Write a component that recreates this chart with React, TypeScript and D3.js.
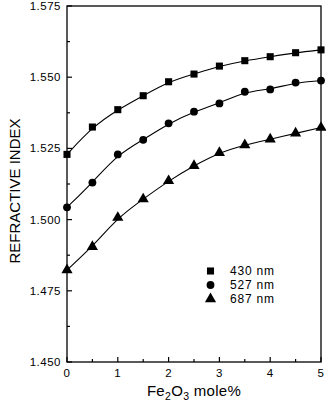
import React from "react";
import * as d3 from "d3";

const xValues = [0, 0.5, 1, 1.5, 2, 2.5, 3, 3.5, 4, 4.5, 5];
const n430 = [1.5229, 1.5325, 1.5386, 1.5435, 1.5484, 1.5511, 1.5539, 1.5558, 1.5572, 1.5586, 1.5596];
const n527 = [1.5043, 1.513, 1.5229, 1.528, 1.5338, 1.5379, 1.5408, 1.5449, 1.5457, 1.5481, 1.5488];
const n687 = [1.4823, 1.4905, 1.5007, 1.5072, 1.5136, 1.5189, 1.5235, 1.5262, 1.5282, 1.5303, 1.5323];
const seriesNames = ["430 nm", "527 nm", "687 nm"];
const yTicks = [1.45, 1.475, 1.5, 1.525, 1.55, 1.575];
const xTicks = [0, 1, 2, 3, 4, 5];

const W = 326;
const H = 401;
const m = { left: 67, right: 321, top: 6, bottom: 362 };
const font = "'Liberation Sans', Arial, sans-serif";

export default function App() {
  const x = d3.scaleLinear().domain([0, 5]).range([m.left, m.right]);
  const y = d3.scaleLinear().domain([1.45, 1.575]).range([m.bottom, m.top]);
  const line = d3
    .line<number>()
    .x((_, i) => x(xValues[i]))
    .y((d) => y(d))
    .curve(d3.curveBasis);

  const series = [n430, n527, n687];
  const sq = d3.symbol().type(d3.symbolSquare).size(50)();
  const ci = d3.symbol().type(d3.symbolCircle).size(48)();
  const tr = d3.symbol().type(d3.symbolTriangle).size(54)();
  const shapes = [sq, ci, tr];

  const yMinor = d3.range(1.4625, 1.575, 0.025);
  const xMinor = d3.range(0.5, 5, 1);

  return (
    <svg width={W} height={H} style={{ position: "absolute", left: 0, top: 0, background: "#fff" }}>
      <rect x={0} y={0} width={W} height={H} fill="#fff" />
      <g stroke="#000" fill="none">
        <rect x={m.left} y={m.top} width={m.right - m.left} height={m.bottom - m.top} strokeWidth={1.3} />
        {yTicks.map((t) => (
          <line key={t} x1={m.left} x2={m.left + 5} y1={y(t)} y2={y(t)} strokeWidth={1.2} />
        ))}
        {yMinor.map((t) => (
          <line key={t} x1={m.left} x2={m.left + 3} y1={y(t)} y2={y(t)} strokeWidth={1.2} />
        ))}
        {xTicks.map((t) => (
          <line key={t} x1={x(t)} x2={x(t)} y1={m.bottom} y2={m.bottom - 5} strokeWidth={1.2} />
        ))}
        {xMinor.map((t) => (
          <line key={t} x1={x(t)} x2={x(t)} y1={m.bottom} y2={m.bottom - 3} strokeWidth={1.2} />
        ))}
      </g>
      <g fontFamily={font} fontSize={11.5} fill="#000" letterSpacing={0.5}>
        {yTicks.map((t) => (
          <text key={t} x={m.left - 6} y={y(t)} dy="0.35em" textAnchor="end">
            {d3.format(".3f")(t)}
          </text>
        ))}
        {xTicks.map((t) => (
          <text key={t} x={x(t)} y={m.bottom + 15} textAnchor="middle">
            {t}
          </text>
        ))}
      </g>
      <text
        transform={`translate(20,191) rotate(-90)`}
        textAnchor="middle"
        fontFamily={font}
        fontSize={15}
      >
        REFRACTIVE INDEX
      </text>
      <text x={194} y={396} textAnchor="middle" fontFamily={font} fontSize={15} letterSpacing={0.3}>
        Fe<tspan fontSize={10.5} dy={4}>2</tspan>
        <tspan dy={-4}>O</tspan>
        <tspan fontSize={10.5} dy={4}>3</tspan>
        <tspan dy={-4}> mole%</tspan>
      </text>
      {series.map((s, k) => (
        <g key={k}>
          <path d={line(s) || ""} fill="none" stroke="#000" strokeWidth={1.1} />
          {s.map((v, i) => (
            <path key={i} d={shapes[k] || ""} transform={`translate(${x(xValues[i])},${y(v)})`} fill="#000" />
          ))}
        </g>
      ))}
      <g fontFamily={font} fontSize={12} letterSpacing={0.8}>
        {seriesNames.map((name, k) => (
          <g key={name} transform={`translate(0,${271 + k * 14})`}>
            <path d={shapes[k] || ""} transform="translate(210.5,0)" fill="#000" />
            <text x={230} y={0} dy="0.35em">
              {name}
            </text>
          </g>
        ))}
      </g>
    </svg>
  );
}
